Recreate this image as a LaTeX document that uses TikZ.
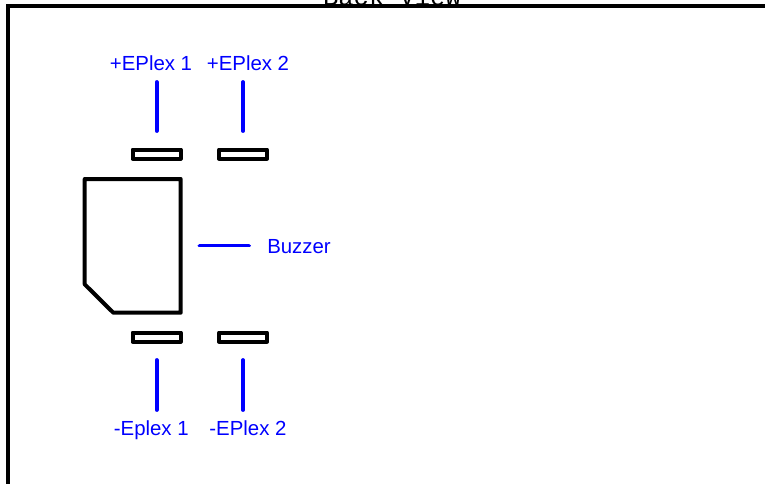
\documentclass[tikz,border=0pt]{standalone}
\usepackage{fontspec}
\setmainfont{Liberation Sans}
\newfontfamily\cour{Liberation Mono}
\tikzset{
  x=1pt,y=-1pt,
  outline/.style={draw=black,line width=4pt,line join=round,line cap=round},
  pin/.style={outline,minimum width=48pt,minimum height=9pt,inner sep=0pt,rectangle},
  wire/.style={draw=blue,line width=3.8pt,line cap=round},
  lab/.style={text=blue,font=\fontsize{20.4}{22}\selectfont,inner sep=0pt,anchor=base},
}
\begin{document}
\begin{tikzpicture}
\useasboundingbox (0,0) rectangle (765,483);
\begin{scope}
\clip (0,0) rectangle (765,483);
\node[font=\cour\fontsize{25.5}{28}\selectfont,anchor=base,inner sep=0pt] (title) at (392,5) {Back View};
\draw[line width=4pt,line cap=butt,line join=miter] (8,490) -- (8,5.7) -- (770,5.7);
\end{scope}
\node[pin] (p1) at (156.5,154) {};
\node[pin] (p2) at (243,154) {};
\node[pin] (m1) at (156.5,337) {};
\node[pin] (m2) at (243,337) {};
\draw[outline] (84.7,179) -- (180.7,179) -- (180.7,312.7) -- (113.3,312.7) -- (84.7,284.3) -- cycle;
\node[lab] (lp1) at (151,70) {+EPlex 1};
\node[lab] (lp2) at (248,70) {+EPlex 2};
\node[lab] (lb) at (299,253) {Buzzer};
\node[lab] (lm1) at (151.3,435) {-Eplex 1};
\node[lab] (lm2) at (248,435) {-EPlex 2};
\coordinate (a1) at (156.7,82); \coordinate (a2) at (156.7,131);
\coordinate (b1) at (243,82); \coordinate (b2) at (243,131);
\coordinate (c1) at (199.5,245.5); \coordinate (c2) at (249,245.5);
\coordinate (d1) at (156.7,360); \coordinate (d2) at (156.7,410);
\coordinate (e1) at (243,360); \coordinate (e2) at (243,410);
\draw[wire] (a1) -- (a2);
\draw[wire] (b1) -- (b2);
\draw[wire] (c1) -- (c2);
\draw[wire] (d1) -- (d2);
\draw[wire] (e1) -- (e2);
\end{tikzpicture}
\end{document}
